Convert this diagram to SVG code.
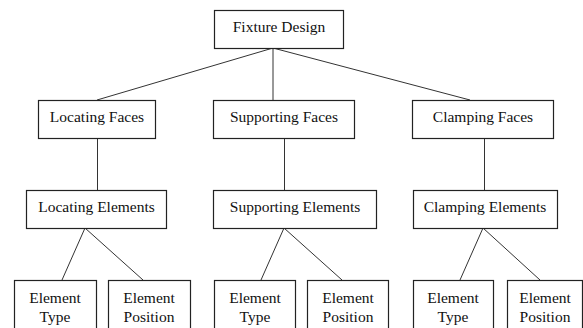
<svg xmlns="http://www.w3.org/2000/svg" width="583" height="328" viewBox="0 0 583 328">
  <style>
    .box { fill: #ffffff; stroke: #222222; stroke-width: 1.2; }
    .lbl { font-family: "Liberation Serif", "Times New Roman", serif; font-size: 15.5px; fill: #111111; text-anchor: middle; }
    .link { stroke: #333333; stroke-width: 1; fill: none; }
  </style>
  <rect width="583" height="328" fill="#ffffff"/>

  <!-- connectors -->
  <g id="connectors">
    <line class="link" x1="273" y1="48" x2="97" y2="100"/>
    <line class="link" x1="273" y1="48" x2="273" y2="100"/>
    <line class="link" x1="273" y1="48" x2="470" y2="100"/>
    <line class="link" x1="97.5" y1="138" x2="97.5" y2="190"/>
    <line class="link" x1="284.5" y1="138" x2="284.5" y2="190"/>
    <line class="link" x1="484.5" y1="138" x2="484.5" y2="190"/>
    <line class="link" x1="85" y1="228" x2="62" y2="280"/>
    <line class="link" x1="85" y1="228" x2="143" y2="280"/>
    <line class="link" x1="284" y1="228" x2="261" y2="280"/>
    <line class="link" x1="284" y1="228" x2="342" y2="280"/>
    <line class="link" x1="483" y1="228" x2="460" y2="280"/>
    <line class="link" x1="483" y1="228" x2="540" y2="280"/>
  </g>

  <g id="fixture-design">
    <rect class="box" x="214.5" y="10.5" width="129" height="38"/>
    <text class="lbl" x="279" y="32">Fixture Design</text>
  </g>

  <g id="locating-faces">
    <rect class="box" x="38.5" y="100.5" width="117" height="38"/>
    <text class="lbl" x="97" y="122">Locating Faces</text>
  </g>
  <g id="supporting-faces">
    <rect class="box" x="213.5" y="100.5" width="141" height="38"/>
    <text class="lbl" x="284" y="122">Supporting Faces</text>
  </g>
  <g id="clamping-faces">
    <rect class="box" x="412.5" y="100.5" width="141" height="38"/>
    <text class="lbl" x="483" y="122">Clamping Faces</text>
  </g>

  <g id="locating-elements">
    <rect class="box" x="26.5" y="190.5" width="140" height="38"/>
    <text class="lbl" x="96.5" y="212">Locating Elements</text>
  </g>
  <g id="supporting-elements">
    <rect class="box" x="213.5" y="190.5" width="163" height="38"/>
    <text class="lbl" x="295" y="212">Supporting Elements</text>
  </g>
  <g id="clamping-elements">
    <rect class="box" x="413.5" y="190.5" width="144" height="38"/>
    <text class="lbl" x="485" y="212">Clamping Elements</text>
  </g>

  <g id="locating-type">
    <rect class="box" x="14.5" y="280.5" width="82" height="60"/>
    <text class="lbl" x="55" y="303">Element</text>
    <text class="lbl" x="55" y="322">Type</text>
  </g>
  <g id="locating-position">
    <rect class="box" x="108.5" y="280.5" width="82" height="60"/>
    <text class="lbl" x="149" y="303">Element</text>
    <text class="lbl" x="149" y="322">Position</text>
  </g>
  <g id="supporting-type">
    <rect class="box" x="214.5" y="280.5" width="81" height="60"/>
    <text class="lbl" x="255" y="303">Element</text>
    <text class="lbl" x="255" y="322">Type</text>
  </g>
  <g id="supporting-position">
    <rect class="box" x="307.5" y="280.5" width="81" height="60"/>
    <text class="lbl" x="348" y="303">Element</text>
    <text class="lbl" x="348" y="322">Position</text>
  </g>
  <g id="clamping-type">
    <rect class="box" x="413.5" y="280.5" width="80" height="60"/>
    <text class="lbl" x="453" y="303">Element</text>
    <text class="lbl" x="453" y="322">Type</text>
  </g>
  <g id="clamping-position">
    <rect class="box" x="507.5" y="280.5" width="75" height="60"/>
    <text class="lbl" x="545" y="303">Element</text>
    <text class="lbl" x="545" y="322">Position</text>
  </g>
</svg>
